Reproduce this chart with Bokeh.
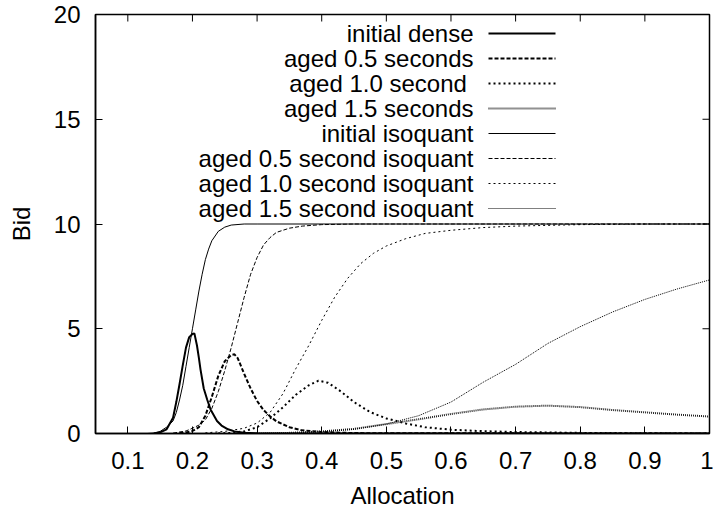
from bokeh.plotting import figure
from bokeh.models import Range1d, FixedTicker, Label, PrintfTickFormatter
from bokeh.embed import file_html
from bokeh.resources import INLINE

# ---------------- data ----------------
x_ticks = [0.1, 0.2, 0.3, 0.4, 0.5, 0.6, 0.7, 0.8, 0.9, 1]
y_ticks = [0, 5, 10, 15, 20]

labels = ["initial dense", "aged 0.5 seconds", "aged 1.0 second ", "aged 1.5 seconds",
          "initial isoquant", "aged 0.5 second isoquant", "aged 1.0 second isoquant",
          "aged 1.5 second isoquant"]

dense0_x = [0.14, 0.15, 0.16, 0.17, 0.175, 0.18, 0.185, 0.19, 0.195, 0.2, 0.203, 0.207, 0.21,
            0.2125, 0.2175, 0.223, 0.228, 0.238, 0.245, 0.255, 0.265, 0.28, 0.30, 1.0]
dense0_y = [0.0, 0.05, 0.2, 0.75, 1.5, 2.35, 3.25, 4.1, 4.6, 4.75, 4.78, 4.2, 3.6,
            3.05, 2.15, 1.6, 1.15, 0.6, 0.38, 0.2, 0.1, 0.04, 0.01, 0.0]

dense05_x = [0.18, 0.19, 0.20, 0.21, 0.22, 0.23, 0.24, 0.25, 0.26, 0.265, 0.27, 0.28, 0.29,
             0.30, 0.31, 0.32, 0.33, 0.35, 0.37, 0.40, 0.45, 0.5, 1.0]
dense05_y = [0.02, 0.05, 0.12, 0.3, 0.85, 1.75, 2.75, 3.45, 3.75, 3.78, 3.6, 2.85, 2.15,
             1.55, 1.12, 0.82, 0.58, 0.3, 0.15, 0.07, 0.02, 0.01, 0.0]

dense10_x = [0.24, 0.26, 0.28, 0.30, 0.32, 0.34, 0.36, 0.38, 0.395, 0.41, 0.43, 0.45, 0.475,
             0.50, 0.53, 0.56, 0.60, 0.65, 0.70, 0.80, 0.90, 1.0]
dense10_y = [0.01, 0.03, 0.1, 0.3, 0.72, 1.25, 1.85, 2.3, 2.52, 2.42, 2.0, 1.5, 1.02,
             0.72, 0.48, 0.3, 0.18, 0.11, 0.07, 0.03, 0.01, 0.0]

dense15_x = [0.30, 0.35, 0.40, 0.45, 0.50, 0.55, 0.60, 0.65, 0.70, 0.75, 0.80, 0.85, 0.90, 0.95, 1.0]
dense15_y = [0.0, 0.03, 0.1, 0.22, 0.45, 0.68, 0.93, 1.15, 1.28, 1.33, 1.26, 1.12, 1.01, 0.9, 0.81]

iso0_x = [0.13, 0.14, 0.15, 0.16, 0.17, 0.175, 0.18, 0.185, 0.19, 0.195, 0.2, 0.205, 0.21, 0.215,
          0.22, 0.225, 0.23, 0.24, 0.25, 0.26, 0.28, 0.30, 1.0]
iso0_y = [0.0, 0.02, 0.1, 0.3, 0.6, 1.0, 1.6, 2.3, 3.2, 4.1, 5.0, 5.9, 6.8, 7.6,
          8.3, 8.8, 9.2, 9.65, 9.85, 9.95, 10.0, 10.0, 10.0]

iso05_x = [0.17, 0.19, 0.20, 0.21, 0.22, 0.23, 0.24, 0.25, 0.26, 0.27, 0.28, 0.29, 0.30, 0.31,
           0.32, 0.33, 0.35, 0.37, 0.40, 0.45, 1.0]
iso05_y = [0.02, 0.12, 0.25, 0.4, 0.65, 1.2, 2.0, 3.0, 4.1, 5.3, 6.5, 7.6, 8.4, 9.0,
           9.35, 9.6, 9.8, 9.9, 9.97, 10.0, 10.0]

iso10_x = [0.22, 0.25, 0.28, 0.30, 0.32, 0.34, 0.36, 0.38, 0.40, 0.42, 0.44, 0.46, 0.48, 0.50,
           0.53, 0.56, 0.60, 0.65, 0.70, 0.80, 0.90, 1.0]
iso10_y = [0.03, 0.1, 0.25, 0.5, 1.0, 1.9, 3.1, 4.2, 5.4, 6.5, 7.4, 8.1, 8.6, 8.95,
           9.3, 9.55, 9.7, 9.83, 9.9, 9.97, 10.0, 10.0]

iso15_x = [0.30, 0.35, 0.40, 0.45, 0.50, 0.55, 0.60, 0.65, 0.70, 0.75, 0.80, 0.85, 0.90, 0.95, 1.0]
iso15_y = [0.0, 0.02, 0.08, 0.2, 0.45, 0.85, 1.5, 2.45, 3.3, 4.3, 5.1, 5.8, 6.4, 6.9, 7.33]

# ---------------- styles ----------------
FONT = "Liberation Sans"
FS = "24px"
X0, X1, Y0, Y1 = 0.05, 1.0, 0, 20
TOP, BOTTOM, LEFT, RIGHT = 14, 83, 95, 4
PX_PER_X = (713 - LEFT - RIGHT) / (X1 - X0)
PX_PER_Y = (516 - TOP - BOTTOM) / (Y1 - Y0)

series = [
    (dense0_x, dense0_y, dict(line_width=2.0, line_dash="solid", line_color="black")),
    (dense05_x, dense05_y, dict(line_width=2.0, line_dash="4 2", line_color="black")),
    (dense10_x, dense10_y, dict(line_width=2.0, line_dash="2 3", line_color="black")),
    (dense15_x, dense15_y, dict(line_width=2.0, line_dash="1 1", line_color="#222222")),
    (iso0_x, iso0_y, dict(line_width=1.0, line_dash="solid", line_color="black")),
    (iso05_x, iso05_y, dict(line_width=1.0, line_dash="4 2", line_color="black")),
    (iso10_x, iso10_y, dict(line_width=1.0, line_dash="2 3", line_color="black")),
    (iso15_x, iso15_y, dict(line_width=1.0, line_dash="1 1", line_color="black")),
]

p = figure(width=713, height=516, output_backend="svg", toolbar_location=None,
           x_range=Range1d(X0, X1), y_range=Range1d(Y0, Y1),
           min_border_left=LEFT, min_border_right=RIGHT, min_border_top=TOP,
           min_border_bottom=BOTTOM,
           x_axis_label="Allocation", y_axis_label="Bid")
p.background_fill_color = "white"
p.border_fill_color = "white"
p.xgrid.visible = False
p.ygrid.visible = False
p.outline_line_color = "black"
p.outline_line_width = 1.5

for ax in (p.xaxis[0], p.yaxis[0]):
    ax.major_tick_in = 7
    ax.major_tick_out = 0
    ax.minor_tick_in = 0
    ax.minor_tick_out = 0
    ax.axis_line_color = "black"
    ax.axis_line_width = 1.5
    ax.major_tick_line_color = "black"
    ax.major_label_text_font = FONT
    ax.major_label_text_font_size = FS
    ax.major_label_text_color = "black"
    ax.axis_label_text_font = FONT
    ax.axis_label_text_font_size = FS
    ax.axis_label_text_font_style = "normal"
    ax.axis_label_text_color = "black"

p.xaxis[0].ticker = FixedTicker(ticks=x_ticks)
p.xaxis[0].formatter = PrintfTickFormatter(format="%g")
p.xaxis[0].major_label_standoff = 18
p.xaxis[0].axis_label_standoff = 10
p.yaxis[0].ticker = FixedTicker(ticks=y_ticks)
p.yaxis[0].major_label_standoff = 15
p.yaxis[0].axis_label_standoff = 16

# mirrored inward ticks on the top and right edges of the frame
TICK_DY = 7 / PX_PER_Y
TICK_DX = 7 / PX_PER_X
p.segment(x0=x_ticks, y0=[Y1] * len(x_ticks), x1=x_ticks, y1=[Y1 - TICK_DY] * len(x_ticks),
          line_color="black", line_width=1)
p.segment(x0=[X1] * len(y_ticks), y0=y_ticks, x1=[X1 - TICK_DX] * len(y_ticks), y1=y_ticks,
          line_color="black", line_width=1)

for xs, ys, st in series:
    p.line(xs, ys, **st)

# gnuplot-style key: right-aligned text with the sample line on its right
def key_x(px):
    return X0 + (px - LEFT) / PX_PER_X

def key_y(py):
    return Y1 - (py - TOP) / PX_PER_Y

KEY_TEXT_PX = 473
KEY_LINE_PX = (488, 555)
KEY_TOP_PX = 33
KEY_STEP_PX = 25
for i, (lab, (_, _, st)) in enumerate(zip(labels, series)):
    yk = key_y(KEY_TOP_PX + i * KEY_STEP_PX)
    p.add_layout(Label(x=key_x(KEY_TEXT_PX), y=yk, text=lab, text_align="right",
                       text_baseline="middle", text_font=FONT, text_font_size=FS,
                       text_color="black"))
    p.line([key_x(KEY_LINE_PX[0]), key_x(KEY_LINE_PX[1])], [yk, yk], **st)

open("out.html", "w").write(file_html(p, INLINE))
